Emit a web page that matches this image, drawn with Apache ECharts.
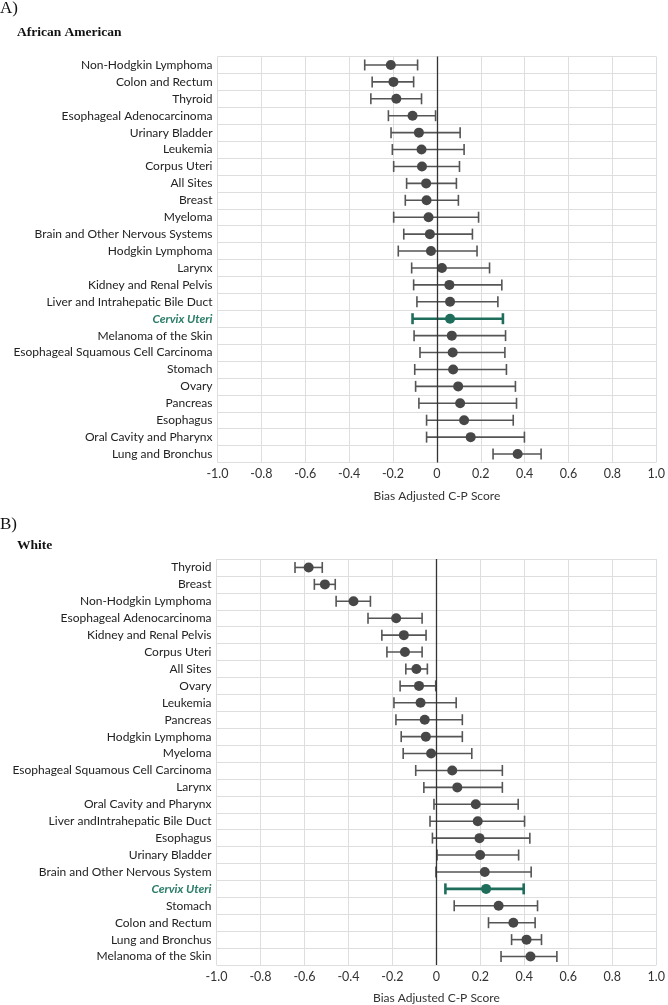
<!DOCTYPE html>
<html>
<head>
<meta charset="utf-8">
<script src="https://cdn.jsdelivr.net/npm/echarts@6/dist/echarts.min.js"></script>
<style>
html,body{margin:0;padding:0;background:#fff;}
#chart{width:668px;height:1005px;}
</style>
</head>
<body>
<div id="chart"></div>
<script>
// ---------- Panel A: African American ----------
const catsA = ['Non-Hodgkin Lymphoma','Colon and Rectum','Thyroid','Esophageal Adenocarcinoma','Urinary Bladder','Leukemia','Corpus Uteri','All Sites','Breast','Myeloma','Brain and Other Nervous Systems','Hodgkin Lymphoma','Larynx','Kidney and Renal Pelvis','Liver and Intrahepatic Bile Duct','Cervix Uteri','Melanoma of the Skin','Esophageal Squamous Cell Carcinoma','Stomach','Ovary','Pancreas','Esophagus','Oral Cavity and Pharynx','Lung and Bronchus'];
const ptA = [-0.210,-0.198,-0.185,-0.111,-0.082,-0.070,-0.068,-0.049,-0.047,-0.038,-0.032,-0.027,0.023,0.057,0.060,0.060,0.068,0.072,0.074,0.097,0.106,0.124,0.154,0.368];
const loA = [-0.329,-0.295,-0.301,-0.221,-0.209,-0.203,-0.197,-0.138,-0.144,-0.197,-0.151,-0.176,-0.115,-0.106,-0.091,-0.111,-0.104,-0.077,-0.101,-0.097,-0.082,-0.047,-0.047,0.256];
const hiA = [-0.088,-0.106,-0.070,-0.006,0.106,0.124,0.103,0.089,0.098,0.190,0.162,0.183,0.240,0.296,0.278,0.301,0.313,0.310,0.317,0.358,0.363,0.348,0.399,0.475];

// ---------- Panel B: White ----------
const catsB = ['Thyroid','Breast','Non-Hodgkin Lymphoma','Esophageal Adenocarcinoma','Kidney and Renal Pelvis','Corpus Uteri','All Sites','Ovary','Leukemia','Pancreas','Hodgkin Lymphoma','Myeloma','Esophageal Squamous Cell Carcinoma','Larynx','Oral Cavity and Pharynx','Liver andIntrahepatic Bile Duct','Esophagus','Urinary Bladder','Brain and Other Nervous System','Cervix Uteri','Stomach','Colon and Rectum','Lung and Bronchus','Melanoma of the Skin'];
const ptB = [-0.581,-0.507,-0.377,-0.183,-0.148,-0.143,-0.091,-0.079,-0.072,-0.053,-0.048,-0.024,0.072,0.095,0.179,0.188,0.196,0.199,0.220,0.226,0.283,0.350,0.410,0.428];
const loB = [-0.643,-0.555,-0.456,-0.311,-0.248,-0.225,-0.139,-0.165,-0.193,-0.184,-0.160,-0.151,-0.094,-0.057,-0.011,-0.029,-0.018,0.003,-0.002,0.041,0.081,0.237,0.342,0.294];
const hiB = [-0.519,-0.460,-0.300,-0.065,-0.047,-0.065,-0.041,-0.003,0.090,0.118,0.118,0.161,0.300,0.300,0.372,0.401,0.425,0.374,0.431,0.397,0.460,0.449,0.478,0.548];

const highlight = 'Cervix Uteri';
const xTicks = [-1.0,-0.8,-0.6,-0.4,-0.2,0,0.2,0.4,0.6,0.8,1.0];
const xName = 'Bias Adjusted C-P Score';

const FONT = 'Lato, "Open Sans", sans-serif';
const SERIF = '"Liberation Serif", "DejaVu Serif", serif';
const GRAY = '#474747';
const LINEGRAY = '#555555';
const TEAL = '#1f6e5c';
const TEAL_TXT = '#2b7d68';
const GRID = '#dedede';

function errData(cats, lo, hi){
  return cats.map((c,i)=>[lo[i], hi[i], c, c===highlight?1:0]);
}
function ptData(cats, pt){
  return cats.map((c,i)=>({
    value:[pt[i], c],
    itemStyle:{color: c===highlight?TEAL:GRAY, opacity:1}
  }));
}
function renderErr(params, api){
  const cat = api.value(2);
  const p1 = api.coord([api.value(0), cat]);
  const p2 = api.coord([api.value(1), cat]);
  const hl = api.value(3) === 1;
  const st = {stroke: hl?TEAL:LINEGRAY, lineWidth: hl?2.6:1.6};
  const h = 5.5;
  return {type:'group', children:[
    {type:'line', shape:{x1:p1[0],y1:p1[1],x2:p2[0],y2:p2[1]}, style:st},
    {type:'line', shape:{x1:p1[0],y1:p1[1]-h,x2:p1[0],y2:p1[1]+h}, style:st},
    {type:'line', shape:{x1:p2[0],y1:p2[1]-h,x2:p2[0],y2:p2[1]+h}, style:st}
  ]};
}
function xAxisDef(gi, gap){
  return {
    type:'value', gridIndex:gi, min:-1, max:1, interval:0.2,
    name:xName, nameLocation:'middle', nameGap:gap,
    nameTextStyle:{fontFamily:FONT, fontSize:12, color:'#333'},
    axisLine:{show:false}, axisTick:{show:false},
    axisLabel:{fontFamily:FONT, fontSize:12.5, color:'#333', margin:5,
      formatter:v=> Math.abs(v)<1e-9 ? '0' : v.toFixed(1)},
    splitLine:{show:true, lineStyle:{color:GRID, width:1}}
  };
}
function yAxisDef(gi, cats){
  return {
    type:'category', gridIndex:gi, data:cats, inverse:true,
    axisLine:{show:false}, axisTick:{show:false},
    axisLabel:{interval:0, fontFamily:FONT, fontSize:12, color:'#222', margin:5,
      formatter:v=> v===highlight ? '{c|'+v+'}' : v,
      rich:{c:{fontFamily:FONT, fontSize:12, color:TEAL_TXT, fontWeight:'bold', fontStyle:'italic'}}},
    splitLine:{show:true, interval:0, lineStyle:{color:GRID, width:1}}
  };
}
function seriesFor(gi, cats, pt, lo, hi){
  return [
    {type:'custom', xAxisIndex:gi, yAxisIndex:gi, renderItem:renderErr,
     encode:{x:[0,1], y:2}, data:errData(cats, lo, hi), z:3, silent:true},
    {type:'scatter', xAxisIndex:gi, yAxisIndex:gi, symbol:'circle', symbolSize:10,
     itemStyle:{opacity:1},
     data:ptData(cats, pt), z:4, silent:true,
     markLine:{silent:true, symbol:'none', label:{show:false},
       lineStyle:{color:'#333', width:1.3, type:'solid'}, data:[{xAxis:0}]}}
  ];
}

const chart = echarts.init(document.getElementById('chart'), null, {renderer:'canvas'});
chart.setOption({
  animation:false,
  backgroundColor:'#fff',
  title:[
    {text:'A)', left:0, top:0, padding:0, textStyle:{fontFamily:SERIF, fontSize:17, fontWeight:'normal', color:'#111'}},
    {text:'African American', left:17, top:26, padding:0, textStyle:{fontFamily:SERIF, fontSize:13.5, fontWeight:'bold', color:'#111'}},
    {text:'B)', left:0, top:516, padding:0, textStyle:{fontFamily:SERIF, fontSize:17, fontWeight:'normal', color:'#111'}},
    {text:'White', left:17, top:539, padding:0, textStyle:{fontFamily:SERIF, fontSize:13.5, fontWeight:'bold', color:'#111'}}
  ],
  grid:[
    {left:217.5, top:56.5, width:441, height:406, containLabel:false},
    {left:216.5, top:559, width:441, height:406, containLabel:false}
  ],
  xAxis:[xAxisDef(0, 28), xAxisDef(1, 27)],
  yAxis:[yAxisDef(0, catsA), yAxisDef(1, catsB)],
  series:[].concat(seriesFor(0, catsA, ptA, loA, hiA), seriesFor(1, catsB, ptB, loB, hiB))
});
</script>
</body>
</html>
